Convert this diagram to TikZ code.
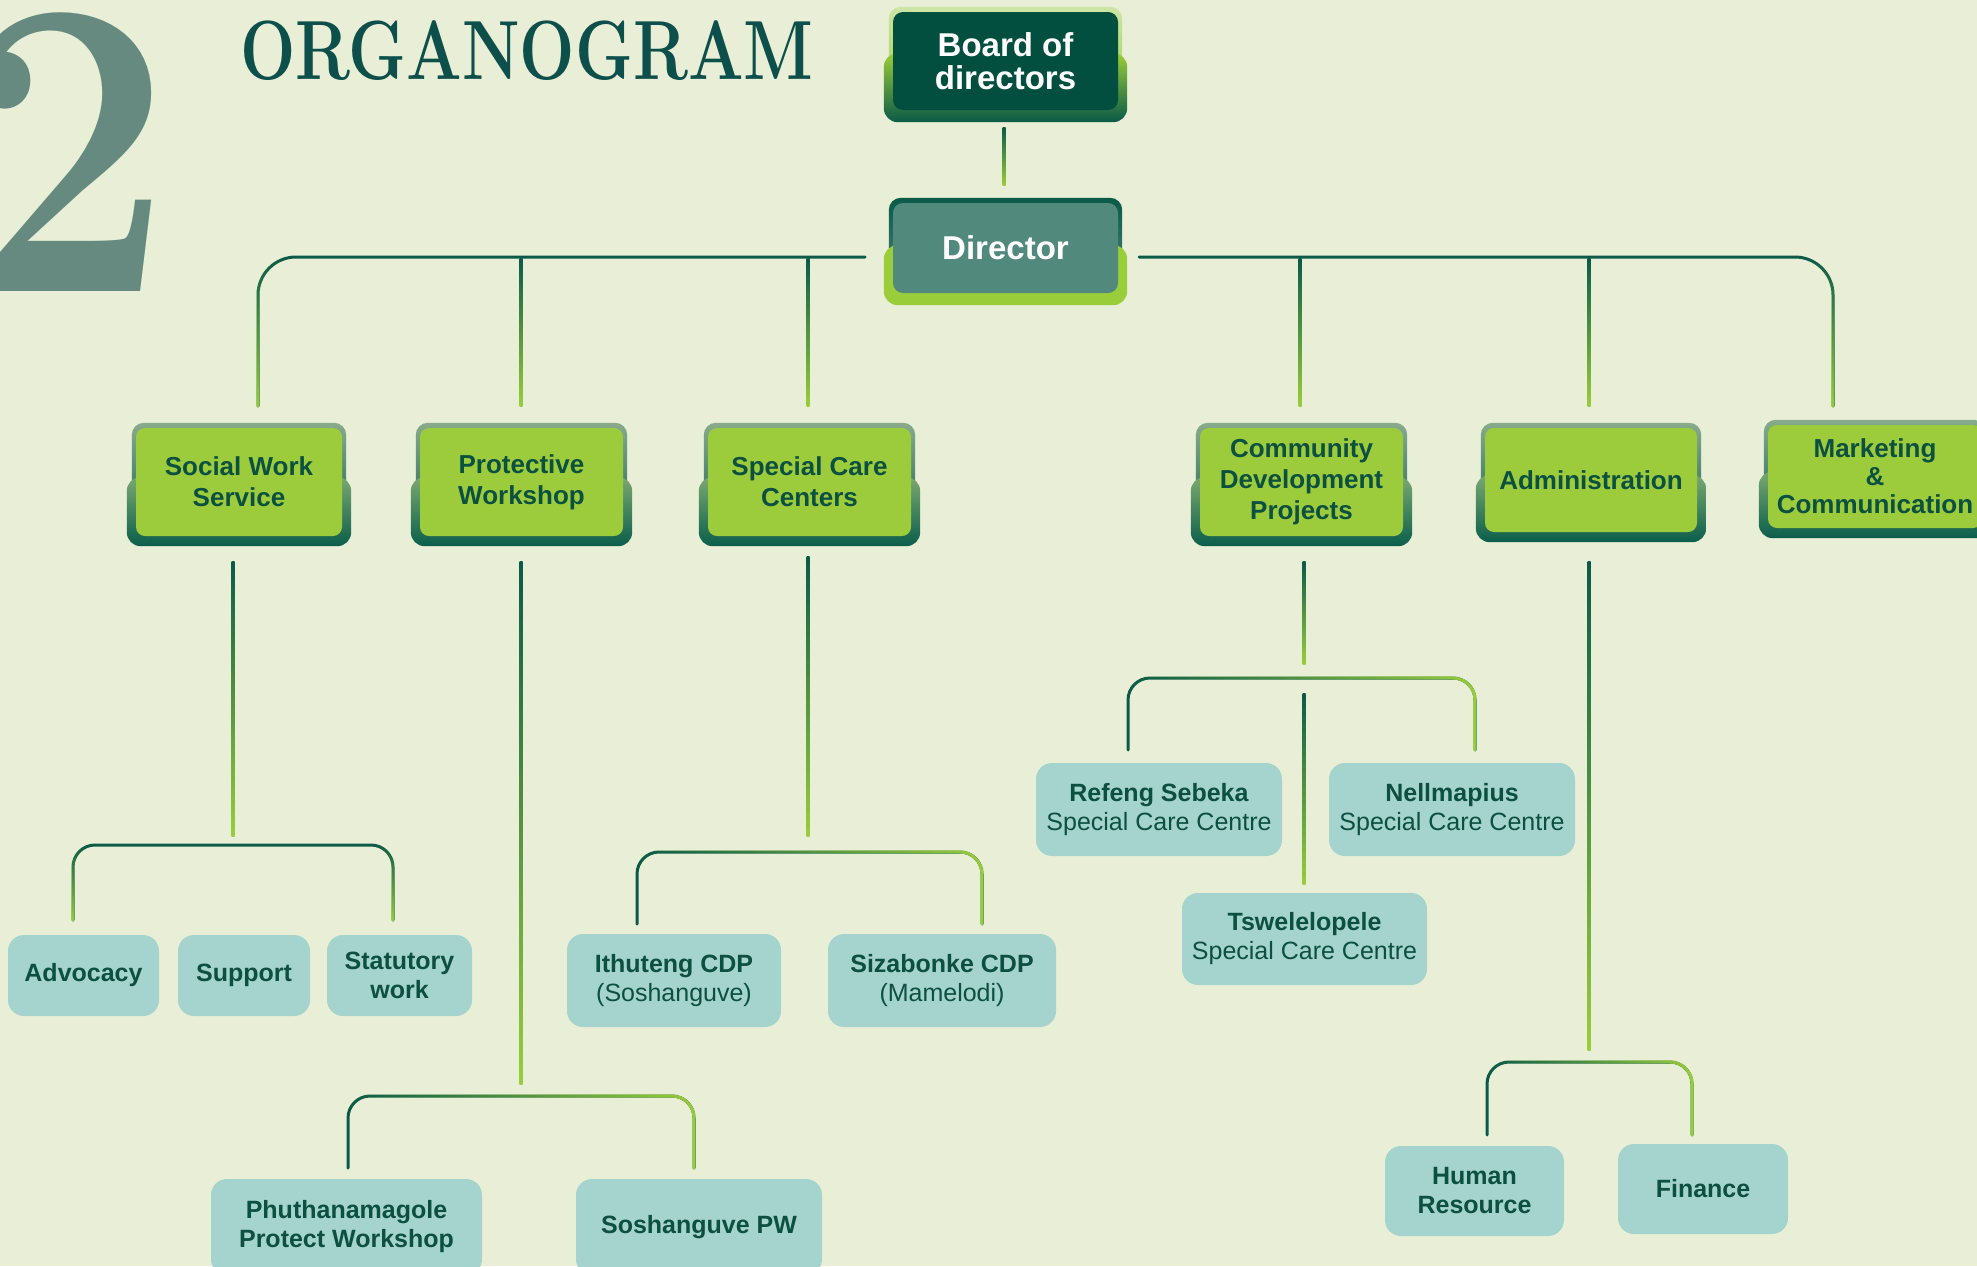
\documentclass[tikz,border=0pt]{standalone}
\usepackage{fontspec}
\newfontfamily\arialf{Liberation Sans}
\usetikzlibrary{calc,fadings}
\definecolor{bgc}{HTML}{E8EFD6}
\definecolor{txt}{HTML}{0B5040}
\definecolor{grn}{HTML}{9CCB3B}
\definecolor{tealb}{HTML}{A5D3CD}
\definecolor{brd}{HTML}{034F3F}
\definecolor{dirc}{HTML}{52897D}
\definecolor{lnD}{HTML}{0A5A48}
\definecolor{lnG}{HTML}{9ACD3A}
\definecolor{two}{HTML}{678A80}
\definecolor{ttl}{HTML}{0D4F4B}
\definecolor{frTop}{HTML}{88AB8C}
\definecolor{frMid}{HTML}{7AA870}
\definecolor{frBot}{HTML}{0B5E4C}
\definecolor{ltgrn}{HTML}{CDE5A5}
\pgfdeclarelayer{bgfill}
\pgfdeclarelayer{frames}
\pgfsetlayers{bgfill,frames,main}
\tikzset{
 lvtwo/.style={fill=grn, rounded corners=9pt, text=txt, font=\arialf\bfseries\fontsize{26}{31}\selectfont, align=center, minimum width=206pt, minimum height=108pt, inner sep=0pt},
 lvthree/.style={fill=tealb, rounded corners=16pt, text=txt, font=\arialf\fontsize{25}{29}\selectfont, align=center, inner sep=0pt, minimum height=93pt},
 topbox/.style={rounded corners=10pt, text=white, font=\arialf\bfseries\fontsize{33}{33}\selectfont, align=center, minimum width=225pt, inner sep=0pt},
 conn/.style={line width=3pt, line cap=round},
}
\newcommand\gframe[1]{%
 \shade[rounded corners=12pt, top color=frTop, bottom color=frBot] ($(#1.north west)+(-4,-5)$) rectangle ($(#1.south east)+(4,4)$);
 \shade[rounded corners=14pt, top color=frMid, bottom color=frBot] ($(#1.west)+(-9,-5)$) rectangle ($(#1.south east)+(9,10)$);}
\newcommand\stem[2]{\shade[top color=lnD, bottom color=lnG] ($(#1)+(-1.5,0)$) rectangle ($(#2)+(1.5,0)$);}
\newcommand\bracket[4]{%
 \draw[conn, lnD, rounded corners=22pt] (#1) -- ++(0,-#3) -| (#2);
 \draw[conn, lnG, rounded corners=22pt, path fading=#4] (#1) -- ++(0,-#3) -| (#2);}
\begin{document}
\begin{tikzpicture}[x=1pt,y=-1pt]
\begin{pgfonlayer}{bgfill}
\fill[bgc] (0,0) rectangle (1977,1266);
\end{pgfonlayer}
\useasboundingbox (0,0) rectangle (1977,1266);
\clip (0,0) rectangle (1977,1266);

% title
\node[anchor=base east, inner sep=0, text=two, font=\bfseries\fontsize{425}{425}\selectfont] (two) at (174,291) {\scalebox{0.9}[1]{2}};
\node[anchor=base west, inner sep=0, text=ttl, font=\bfseries\fontsize{84}{84}\selectfont] (title) at (240,79) {\scalebox{0.78}[1]{ORGANOGRAM}};

% top
\node[topbox, fill=brd, minimum height=98pt] (board) at (1005.5,61) {Board of\\directors};
\node[topbox, fill=dirc, minimum height=90pt] (dir) at (1005.5,248) {Director};

% level 2
\node[lvtwo] (sws) at (239,482) {Social Work\\Service};
\node[lvtwo, minimum width=203pt] (pw) at (521.5,482) {Protective\\Workshop};
\node[lvtwo, minimum width=203pt] (scc) at (809.5,482) {Special Care\\Centers};
\node[lvtwo, minimum width=203pt] (cdp) at (1301.5,482) {Community\\Development\\Projects};
\node[lvtwo, minimum width=212pt, minimum height=104pt] (adm) at (1591,480) {Administration};
\node[lvtwo, minimum width=214pt, minimum height=103pt, font=\arialf\bfseries\fontsize{26}{28}\selectfont] (mkt) at (1875,476.5) {Marketing\\\&\\Communication};

% level 3
\node[lvthree, minimum width=151pt, minimum height=81pt] (adv) at (83.5,975.5) {\textbf{Advocacy}};
\node[lvthree, minimum width=132pt, minimum height=81pt] (sup) at (244,975.5) {\textbf{Support}};
\node[lvthree, minimum width=145pt, minimum height=81pt] (stat) at (399.5,975.5) {\textbf{Statutory}\\\textbf{work}};
\node[lvthree, minimum width=214pt] (ith) at (674,980.5) {\textbf{Ithuteng CDP}\\(Soshanguve)};
\node[lvthree, minimum width=228pt] (siz) at (942,980.5) {\textbf{Sizabonke CDP}\\(Mamelodi)};
\node[lvthree, minimum width=271pt, minimum height=96pt] (phu) at (346.5,1227) {\textbf{Phuthanamagole}\\\textbf{Protect Workshop}};
\node[lvthree, minimum width=246pt, minimum height=96pt] (sos) at (699,1227) {\textbf{Soshanguve PW}};
\node[lvthree, minimum width=246pt] (ref) at (1159,809.5) {\textbf{Refeng Sebeka}\\Special Care Centre};
\node[lvthree, minimum width=246pt] (nel) at (1452,809.5) {\textbf{Nellmapius}\\Special Care Centre};
\node[lvthree, minimum width=245pt, minimum height=92pt] (tsw) at (1304.5,939) {\textbf{Tswelelopele}\\Special Care Centre};
\node[lvthree, minimum width=179pt, minimum height=90pt] (hr) at (1474.5,1191) {\textbf{Human}\\\textbf{Resource}};
\node[lvthree, minimum width=170pt, minimum height=90pt] (fin) at (1703,1189) {\textbf{Finance}};

% frames
\begin{pgfonlayer}{frames}
\shade[rounded corners=12pt, top color=ltgrn, bottom color=lnG] ($(board.north west)+(-4,-5)$) rectangle ($(board.south east)+(4,4)$);
\shade[rounded corners=14pt, top color=lnG, middle color=lnG!70!lnD, bottom color=lnD] ($(board.west)+(-9,-8)$) rectangle ($(board.south east)+(9,12)$);
\shade[rounded corners=12pt, top color=lnD, bottom color=dirc] ($(dir.north west)+(-4,-5)$) rectangle ($(dir.south east)+(4,4)$);
\fill[lnG, rounded corners=14pt] ($(dir.west)+(-9,-3)$) rectangle ($(dir.south east)+(9,12)$);
\gframe{sws}\gframe{pw}\gframe{scc}\gframe{cdp}\gframe{adm}\gframe{mkt}
\end{pgfonlayer}

% coordinates
\coordinate (bdB) at (1004,127); \coordinate (drT) at (1004,185);
\coordinate (busL) at (865,257); \coordinate (busR) at (1139,257);
\coordinate (tSWS) at (258,406); \coordinate (tMKT) at (1833,406);
\coordinate (pwA) at (521,258); \coordinate (pwB) at (521,406);
\coordinate (scA) at (808,258); \coordinate (scB) at (808,406);
\coordinate (cdA) at (1300,258); \coordinate (cdB) at (1300,406);
\coordinate (adA) at (1589,258); \coordinate (adB) at (1589,406);
\coordinate (swsS) at (233,561); \coordinate (swsE) at (233,836);
\coordinate (pwS) at (521,561); \coordinate (pwE) at (521,1084);
\coordinate (sccS) at (808,556); \coordinate (sccE) at (808,836);
\coordinate (cdpS) at (1304,561); \coordinate (cdpE) at (1304,664);
\coordinate (tswS) at (1304,693); \coordinate (tswE) at (1304,884);
\coordinate (admS) at (1589,561); \coordinate (admE) at (1589,1050);
\coordinate (b1L) at (73,920); \coordinate (b1R) at (393,920);
\coordinate (b2L) at (637,924); \coordinate (b2R) at (982,924);
\coordinate (b3L) at (348,1168); \coordinate (b3R) at (694,1168);
\coordinate (b4L) at (1128,750); \coordinate (b4R) at (1475,750);
\coordinate (b5L) at (1487,1135); \coordinate (b5R) at (1692,1135);

% connectors
\stem{bdB}{drT}
\draw[conn, lnD, rounded corners=38pt] (tSWS) |- (busL);
\draw[conn, lnG, rounded corners=38pt, path fading=north] (tSWS) |- (busL);
\draw[conn, lnD, rounded corners=38pt] (busR) -| (tMKT);
\draw[conn, lnG, rounded corners=38pt, path fading=north] (busR) -| (tMKT);
\stem{pwA}{pwB}\stem{scA}{scB}\stem{cdA}{cdB}\stem{adA}{adB}
\stem{swsS}{swsE}\stem{pwS}{pwE}\stem{sccS}{sccE}\stem{cdpS}{cdpE}\stem{tswS}{tswE}\stem{admS}{admE}
\bracket{b1L}{b1R}{75}{north}
\bracket{b2L}{b2R}{72}{west}
\bracket{b3L}{b3R}{72}{west}
\bracket{b4L}{b4R}{72}{west}
\bracket{b5L}{b5R}{73}{west}
\end{tikzpicture}
\end{document}
